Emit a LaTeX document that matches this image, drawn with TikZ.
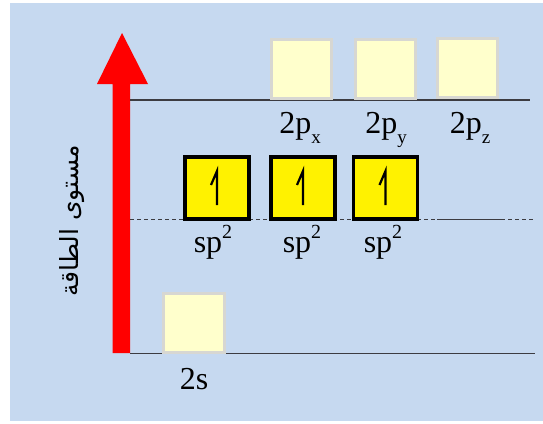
\documentclass[tikz,border=0pt]{standalone}
\usepackage{fontspec}
\setmainfont{Liberation Serif}
\newfontfamily\arabicfont[Script=Arabic]{DejaVu Sans}
\TeXXeTstate=1
\definecolor{bgblue}{RGB}{198,217,240}
\definecolor{paleyel}{RGB}{255,255,204}
\definecolor{paleedge}{RGB}{215,215,210}
\definecolor{lvl}{RGB}{60,60,65}
\newcommand{\mysub}[1]{\raisebox{-0.32em}{\fontsize{19}{20}\selectfont #1}}
\newcommand{\mysup}[1]{\raisebox{0.42em}{\fontsize{20}{20}\selectfont #1}}
\begin{document}
\begin{tikzpicture}[x=1pt,y=-1pt,
  emptybox/.style={draw=paleedge,line width=3pt,fill=paleyel,inner sep=0pt,minimum width=60pt,minimum height=59pt},
  fullbox/.style={draw=black,line width=3.5pt,fill=yellow,inner sep=0pt,minimum width=64pt,minimum height=62pt},
  lbl/.style={font=\fontsize{32}{36}\selectfont,inner sep=0pt},
  level/.style={draw=lvl,line width=1.4pt},
  spin/.style={line width=2.2pt,line cap=butt,line join=miter}
]
\useasboundingbox (0,0) rectangle (543,423);
\fill[bgblue] (10,3) rectangle (543,421);
% red arrow
\fill[red] (112.5,353) -- (130,353) -- (130,84) -- (148,84) -- (122,33) -- (97,84) -- (112.5,84) -- cycle;
% levels
\coordinate (t1) at (130,100); \coordinate (t2) at (530,100);
\coordinate (m1) at (130,219.5); \coordinate (m2) at (533,219.5);
\coordinate (b1) at (130,353.5); \coordinate (b2) at (535,353.5);
\coordinate (ms1) at (437,219.5); \coordinate (ms2) at (502,219.5);
\draw[level] (t1) -- (t2);
\draw[level,dash pattern=on 4pt off 3pt,line width=1.1pt] (m1) -- (m2);
\draw[level] (ms1) -- (ms2);
\draw[level] (b1) -- (b2);
% 2p boxes
\node[emptybox] (px) at (301,69) {};
\node[emptybox] (py) at (385,69) {};
\node[emptybox] (pz) at (467,67.5) {};
% sp2 boxes
\node[fullbox] (h1) at (217,188) {};
\node[fullbox] (h2) at (303,188) {};
\node[fullbox] (h3) at (385.5,188) {};
% 2s box
\node[emptybox,minimum width=61pt] (s) at (193.5,323) {};
% spins
\foreach \b in {h1,h2,h3}{
  \draw[spin] ([yshift=-17pt]\b.center) -- ([yshift=17pt]\b.center) -- ([xshift=-6pt,yshift=3pt]\b.center);
}
% labels
\node[lbl,anchor=base] (lpx) at (300,133) {2p\mysub{x}};
\node[lbl,anchor=base] (lpy) at (386,133) {2p\mysub{y}};
\node[lbl,anchor=base] (lpz) at (470,133) {2p\mysub{z}};
\node[lbl,anchor=base] (l1) at (213,252) {sp\mysup{2}};
\node[lbl,anchor=base] (l2) at (302,252) {sp\mysup{2}};
\node[lbl,anchor=base] (l3) at (383,252) {sp\mysup{2}};
\node[lbl,anchor=base] (l2s) at (194,389) {2s};
% axis label
\node[rotate=90,inner sep=0pt,font=\arabicfont\fontsize{25}{28}\selectfont] (en) at (72,221) {\beginR مستوى الطاقة\endR};
\end{tikzpicture}
\end{document}
